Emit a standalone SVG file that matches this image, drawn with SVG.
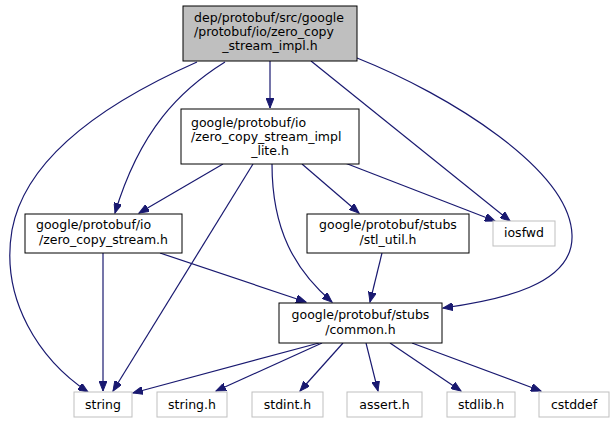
<svg xmlns="http://www.w3.org/2000/svg" width="614" height="424" viewBox="0 0 614 424">
<defs>
<style>
text{font-family:"DejaVu Sans",sans-serif;font-size:12.5px;fill:#000;text-anchor:middle}
text.l{text-anchor:start}
.n{fill:#fff;stroke:#000;stroke-width:1}
.r{fill:#bfbfbf;stroke:#000;stroke-width:1}
.g{fill:#fff;stroke:#bfbfbf;stroke-width:1}
.e{fill:none;stroke:#191970;stroke-width:1.2;marker-end:url(#a)}
</style>
<marker id="a" markerUnits="userSpaceOnUse" markerWidth="11" markerHeight="8" refX="10" refY="4" orient="auto">
<path d="M0,0 L10,4 L0,8 z" fill="#191970" stroke="#191970"/>
</marker>
</defs>
<g id="edges">
<path class="e" d="M197,62 C100,105 25,160 12,230 C0,300 40,360 88,392"/>
<path class="e" d="M225,62 C180,90 140,130 115,213"/>
<path class="e" d="M270,61 L270,108"/>
<path class="e" d="M311,61 L510,221"/>
<path class="e" d="M357,58 C450,95 570,170 572,235 C574,285 500,300 443,308"/>
<path class="e" d="M223,164 L139,213"/>
<path class="e" d="M253,164 L113,391"/>
<path class="e" d="M272,164 C272,230 295,270 332,302"/>
<path class="e" d="M302,164 L359,213"/>
<path class="e" d="M345,163 L495,221"/>
<path class="e" d="M382,253 L370,302"/>
<path class="e" d="M160,253 L306,302"/>
<path class="e" d="M103,253 L103,391"/>
<path class="e" d="M319,343 L133,393"/>
<path class="e" d="M322,343 L216,391"/>
<path class="e" d="M343,343 L300,391"/>
<path class="e" d="M366,343 L378,391"/>
<path class="e" d="M390,343 L461,391"/>
<path class="e" d="M412,343 L541,391"/>
</g>
<g id="n_impl"><rect class="r" x="183" y="6" width="174" height="55"/>
<text class="l" x="194" y="22">dep/protobuf/src/google</text><text class="l" x="194" y="36">/protobuf/io/zero_copy</text><text x="270" y="50">_stream_impl.h</text></g>
<g id="n_lite"><rect class="n" x="181" y="109" width="178" height="55"/>
<text class="l" x="191" y="127">google/protobuf/io</text><text class="l" x="191" y="141">/zero_copy_stream_impl</text><text x="270" y="155">_lite.h</text></g>
<g id="n_zcs"><rect class="n" x="25" y="214" width="157" height="39"/>
<text class="l" x="36" y="229">google/protobuf/io</text><text x="103.5" y="244">/zero_copy_stream.h</text></g>
<g id="n_stl"><rect class="n" x="307" y="214" width="162" height="39"/>
<text x="388" y="229">google/protobuf/stubs</text><text x="388" y="244">/stl_util.h</text></g>
<g id="n_iosfwd"><rect class="g" x="493" y="221" width="62" height="25"/><text x="524" y="237">iosfwd</text></g>
<g id="n_common"><rect class="n" x="279" y="303" width="163" height="40"/>
<text x="360.5" y="319">google/protobuf/stubs</text><text x="360.5" y="334">/common.h</text></g>
<g id="n_string"><rect class="g" x="74" y="392" width="58" height="25"/><text x="103" y="409">string</text></g>
<g id="n_stringh"><rect class="g" x="157" y="392" width="70" height="25"/><text x="192" y="409">string.h</text></g>
<g id="n_stdint"><rect class="g" x="252" y="392" width="71" height="25"/><text x="287.5" y="409">stdint.h</text></g>
<g id="n_assert"><rect class="g" x="347" y="392" width="75" height="25"/><text x="384.5" y="409">assert.h</text></g>
<g id="n_stdlib"><rect class="g" x="447" y="392" width="68" height="25"/><text x="481" y="409">stdlib.h</text></g>
<g id="n_cstddef"><rect class="g" x="539" y="392" width="70" height="25"/><text x="574" y="409">cstddef</text></g>
</svg>
